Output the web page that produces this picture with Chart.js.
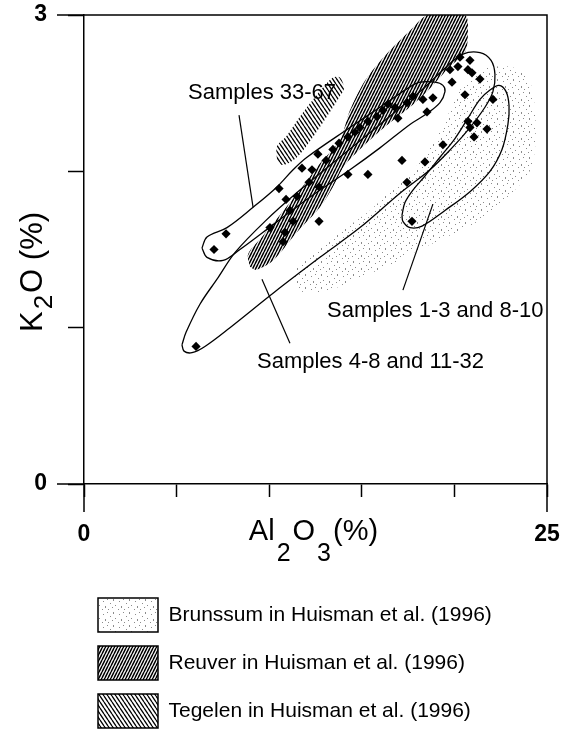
<!DOCTYPE html>
<html>
<head>
<meta charset="utf-8">
<script src="https://cdn.jsdelivr.net/npm/chart.js@4.4.1/dist/chart.umd.min.js"></script>
<style>
  html, body { margin: 0; padding: 0; overflow: hidden; background: #fff; }
  #wrap { position: relative; width: 562px; height: 738px; }
</style>
</head>
<body>
<div id="wrap"><canvas id="c" width="562" height="738"></canvas></div>
<script>
// ---- Sample analyses: Al2O3 (%) against K2O (%), grouped by envelope ----
const al2o3_s33_67 = [7.02, 7.67, 10.04, 10.53, 10.75, 10.85, 10.91, 11.12, 11.29, 11.50, 11.77, 12.15, 12.31, 12.63, 12.69, 13.07, 13.44, 13.77, 14.25, 14.63, 14.90, 15.33, 15.82, 16.14, 16.41, 16.79, 16.95, 17.44, 17.76, 18.30, 18.84, 18.52];
const k2o_s33_67   = [1.50, 1.60, 1.64, 1.89, 1.55, 1.61, 1.82, 1.75, 1.68, 1.84, 2.02, 1.93, 2.01, 2.11, 1.90, 2.07, 2.14, 2.18, 2.22, 2.25, 2.28, 2.32, 2.35, 2.39, 2.43, 2.41, 2.34, 2.44, 2.48, 2.46, 2.47, 2.38];

const al2o3_s4_32 = [6.05, 12.69, 14.25, 15.33, 17.17, 18.41, 19.38, 19.76, 19.87, 20.19, 20.30, 20.84, 20.73, 20.95, 21.38, 20.57, 17.44];
const k2o_s4_32   = [0.88, 1.68, 1.98, 1.98, 2.07, 2.06, 2.17, 2.65, 2.57, 2.67, 2.73, 2.71, 2.65, 2.63, 2.59, 2.49, 1.93];

const al2o3_s1_10 = [22.08, 20.73, 21.22, 20.84, 21.06, 21.76, 17.71];
const k2o_s1_10   = [2.46, 2.32, 2.31, 2.28, 2.22, 2.27, 1.68];

// ---- Envelopes drawn round each sample group (closed outlines) ----
const env33_67_al = [6.37, 6.64, 7.72, 9.13, 10.42, 11.29, 12.04, 14.36, 15.98, 17.60, 18.14, 18.95, 19.38, 19.49, 19.22, 18.52, 17.60, 15.98, 14.36, 12.74, 11.12, 9.67, 8.42, 7.51, 6.64, 6.37];
const env33_67_k  = [1.51, 1.58, 1.64, 1.77, 1.90, 2.01, 2.09, 2.28, 2.41, 2.54, 2.57, 2.57, 2.55, 2.51, 2.44, 2.37, 2.30, 2.15, 2.01, 1.88, 1.74, 1.61, 1.50, 1.43, 1.45, 1.51];

const env4_32_al = [5.29, 5.51, 6.26, 7.24, 8.15, 9.77, 11.66, 13.82, 15.98, 18.14, 19.49, 20.46, 21.38, 21.98, 22.19, 22.08, 21.65, 20.84, 19.87, 18.68, 17.06, 14.90, 12.74, 10.31, 7.88, 6.53, 5.83, 5.40, 5.29];
const env4_32_k  = [0.89, 0.97, 1.15, 1.32, 1.48, 1.68, 1.88, 2.09, 2.30, 2.51, 2.66, 2.75, 2.76, 2.71, 2.62, 2.51, 2.41, 2.28, 2.15, 2.01, 1.86, 1.64, 1.45, 1.23, 1.00, 0.88, 0.84, 0.85, 0.89];

const env1_10_al = [17.17, 17.33, 17.76, 18.41, 19.22, 20.03, 20.73, 21.38, 21.92, 22.41, 22.79, 22.95, 22.89, 22.57, 21.92, 20.84, 19.49, 18.25, 17.60, 17.22, 17.17];
const env1_10_k  = [1.72, 1.80, 1.88, 1.97, 2.09, 2.21, 2.34, 2.46, 2.52, 2.55, 2.51, 2.42, 2.30, 2.14, 2.00, 1.87, 1.75, 1.65, 1.64, 1.68, 1.72];

// ---- Reference fields (Huisman et al., 1996) ----
const brunssum_al = [11.50, 11.45, 12.47, 13.82, 15.44, 16.68, 17.87, 18.95, 19.65, 20.30, 21.27, 22.30, 23.27, 24.08, 24.35, 24.35, 23.97, 22.73, 21.27, 19.76, 18.14, 16.52, 14.63, 13.01, 11.50];
const brunssum_k  = [1.23, 1.37, 1.48, 1.61, 1.75, 1.89, 2.02, 2.20, 2.36, 2.52, 2.64, 2.67, 2.66, 2.57, 2.39, 2.14, 1.98, 1.82, 1.68, 1.59, 1.50, 1.40, 1.31, 1.23, 1.23];

const reuver_al = [8.96, 8.86, 9.61, 10.58, 11.66, 12.74, 13.82, 14.36, 15.17, 16.25, 17.60, 18.57, 20.57, 20.73, 20.57, 19.76, 18.68, 17.60, 16.52, 15.44, 14.09, 13.44, 12.74, 11.50, 10.21, 9.29, 8.96];
const reuver_k  = [1.39, 1.47, 1.58, 1.72, 1.88, 2.05, 2.20, 2.39, 2.58, 2.74, 2.90, 3.00, 3.00, 2.89, 2.76, 2.67, 2.53, 2.41, 2.31, 2.20, 2.04, 1.90, 1.77, 1.61, 1.43, 1.37, 1.39];

const tegelen_al = [10.42, 10.42, 10.96, 11.66, 12.37, 13.01, 13.44, 13.82, 14.04, 13.82, 13.12, 12.37, 11.50, 10.75, 10.42];
const tegelen_k  = [2.07, 2.16, 2.23, 2.35, 2.46, 2.55, 2.60, 2.60, 2.53, 2.48, 2.35, 2.22, 2.09, 2.04, 2.07];

// ---- Leader lines from group captions to their envelopes ----
const leader33_67_al = [8.37, 9.13],   leader33_67_k = [2.36, 1.77];
const leader4_32_al  = [9.61, 11.12],  leader4_32_k  = [1.31, 0.90];
const leader1_10_al  = [17.22, 18.84], leader1_10_k  = [1.24, 1.79];

// ---- Texts ----
const fieldNames = ['Brunssum in Huisman et al. (1996)', 'Reuver in Huisman et al. (1996)', 'Tegelen in Huisman et al. (1996)'];
const groupNames = ['Samples 33-67', 'Samples 4-8 and 11-32', 'Samples 1-3 and 8-10'];
const xTickLabels = [0, 25];
const yTickLabels = [0, 3];

// ---------------------------------------------------------------
const FONT = "'Liberation Sans', Arial, Helvetica, sans-serif";
Chart.defaults.font.family = FONT;
Chart.defaults.color = '#000';

const pts = (xs, ys) => xs.map((x, i) => ({ x, y: ys[i] }));

function hatch(w, h, rising, lw) {
  const c = document.createElement('canvas');
  c.width = w; c.height = h;
  const g = c.getContext('2d');
  g.strokeStyle = '#000';
  g.lineWidth = lw;
  g.beginPath();
  for (const s of [-w, 0, w]) {
    if (rising) { g.moveTo(s, h); g.lineTo(s + w, 0); }
    else { g.moveTo(s, 0); g.lineTo(s + w, h); }
  }
  g.stroke();
  return g.createPattern(c, 'repeat');
}

function stipple() {
  const c = document.createElement('canvas');
  c.width = 16; c.height = 13;
  const g = c.getContext('2d');
  g.fillStyle = '#8c8c8c';
  [[1, 1, 1, 2], [7, 3, 1, 1], [11, 1, 1, 1], [3, 7, 1, 1], [9, 8, 1, 2],
   [14, 5, 1, 1], [6, 11, 1, 1], [12, 11, 1, 1], [0, 9, 1, 1]].forEach(d => g.fillRect(...d));
  return g.createPattern(c, 'repeat');
}

const fieldStyle = (fill) => ({
  type: 'line', backgroundColor: fill, borderColor: 'rgba(0,0,0,0)', borderWidth: 0,
  fill: 'shape', pointRadius: 0, tension: 0.3, inLegend: true
});
const outlineStyle = {
  type: 'line', borderColor: '#000', borderWidth: 1.3, backgroundColor: 'rgba(0,0,0,0)',
  fill: false, pointRadius: 0, tension: 0.35, order: 3
};
const leaderStyle = {
  type: 'line', borderColor: '#000', borderWidth: 1.2, fill: false, pointRadius: 0, tension: 0, order: 2
};
const pointStyle = {
  pointStyle: 'rectRot', pointRadius: 4.6, backgroundColor: '#000', borderColor: '#000', borderWidth: 0, order: 1
};

function drawRich(ctx, parts, cx, baseline, main, sub, subShift) {
  const widths = parts.map(p => {
    ctx.font = p.sub ? sub : main;
    return ctx.measureText(p.t).width + (p.gap || 0) * 2;
  });
  let x = cx - widths.reduce((a, b) => a + b, 0) / 2;
  parts.forEach((p, i) => {
    ctx.font = p.sub ? sub : main;
    ctx.fillText(p.t, x + (p.gap || 0), baseline + (p.sub ? subShift : 0));
    x += widths[i];
  });
}

// scales keep the plot box exactly where the frame sits, ignoring label overhang
const noOverhang = s => { s.paddingTop = 0; s.paddingBottom = 0; s.paddingLeft = 0; s.paddingRight = 0; };

const decorations = {
  id: 'decorations',
  afterDraw(chart) {
    const { ctx, chartArea: a, scales: { x, y } } = chart;
    ctx.save();
    // frame and long end ticks
    ctx.strokeStyle = '#000';
    ctx.lineWidth = 1.5;
    ctx.beginPath();
    ctx.moveTo(a.left - 27, a.top); ctx.lineTo(a.right, a.top); ctx.lineTo(a.right, a.bottom + 28);
    ctx.moveTo(a.left - 27, a.bottom); ctx.lineTo(a.left, a.bottom); ctx.lineTo(a.left, a.bottom + 28);
    ctx.stroke();

    // group captions
    ctx.fillStyle = '#000';
    ctx.textAlign = 'left';
    ctx.textBaseline = 'alphabetic';
    ctx.font = '22px ' + FONT;
    const capPos = [[5.62, 2.46], [9.34, 0.74], [13.12, 1.07]];
    groupNames.forEach((t, i) => {
      ctx.fillText(t, x.getPixelForValue(capPos[i][0]), y.getPixelForValue(capPos[i][1]));
    });

    // axis titles with lowered subscripts
    drawRich(ctx, [{ t: 'Al' }, { t: '2', sub: true, gap: 2 }, { t: 'O' }, { t: '3', sub: true, gap: 2 }, { t: '(%)' }],
      (a.left + a.right) / 2 - 2, a.bottom + 56, '29px ' + FONT, '25px ' + FONT, 21);
    ctx.translate(42, 272);
    ctx.rotate(-Math.PI / 2);
    drawRich(ctx, [{ t: 'K' }, { t: '2', sub: true, gap: 2 }, { t: 'O' }, { t: ' (%)' }], 0, 0,
      '31px ' + FONT, '26px ' + FONT, 10);
    ctx.restore();
  }
};

const chart = new Chart(document.getElementById('c'), {
  type: 'scatter',
  data: {
    datasets: [
      Object.assign({ label: fieldNames[0], data: pts(brunssum_al, brunssum_k), order: 6 }, fieldStyle(stipple())),
      Object.assign({ label: fieldNames[1], data: pts(reuver_al, reuver_k), order: 5 }, fieldStyle(hatch(3, 6, true, 1.5))),
      Object.assign({ label: fieldNames[2], data: pts(tegelen_al, tegelen_k), order: 4 }, fieldStyle(hatch(4, 6, false, 1.3))),
      Object.assign({ label: groupNames[0] + ' envelope', data: pts(env33_67_al, env33_67_k) }, outlineStyle),
      Object.assign({ label: groupNames[1] + ' envelope', data: pts(env4_32_al, env4_32_k) }, outlineStyle),
      Object.assign({ label: groupNames[2] + ' envelope', data: pts(env1_10_al, env1_10_k) }, outlineStyle),
      Object.assign({ label: 'leader 1', data: pts(leader33_67_al, leader33_67_k) }, leaderStyle),
      Object.assign({ label: 'leader 2', data: pts(leader4_32_al, leader4_32_k) }, leaderStyle),
      Object.assign({ label: 'leader 3', data: pts(leader1_10_al, leader1_10_k) }, leaderStyle),
      Object.assign({ label: groupNames[0], data: pts(al2o3_s33_67, k2o_s33_67) }, pointStyle),
      Object.assign({ label: groupNames[1], data: pts(al2o3_s4_32, k2o_s4_32) }, pointStyle),
      Object.assign({ label: groupNames[2], data: pts(al2o3_s1_10, k2o_s1_10) }, pointStyle)
    ]
  },
  options: {
    responsive: false,
    animation: false,
    events: [],
    layout: { padding: { top: 15, right: 15, left: 0, bottom: 0 } },
    scales: {
      x: {
        type: 'linear', min: 0, max: 25,
        afterFit: s => { s.height = 100; noOverhang(s); },
        ticks: {
          stepSize: 5, autoSkip: false, maxRotation: 0, padding: 24,
          font: { size: 23, weight: 'bold' }, color: '#000',
          callback: v => (xTickLabels.includes(v) ? String(v) : '')
        },
        grid: { drawOnChartArea: false, drawTicks: true, tickLength: 13, tickColor: '#000', tickWidth: 1.5 },
        border: { display: true, color: '#000', width: 1.5 }
      },
      y: {
        type: 'linear', min: 0, max: 3,
        afterFit: s => { s.width = 84; noOverhang(s); },
        ticks: {
          stepSize: 1, padding: 21,
          font: { size: 23, weight: 'bold' }, color: '#000',
          callback: v => (yTickLabels.includes(v) ? String(v) : '')
        },
        grid: { drawOnChartArea: false, drawTicks: true, tickLength: 16, tickColor: '#000', tickWidth: 1.5 },
        border: { display: true, color: '#000', width: 1.5 }
      }
    },
    plugins: {
      tooltip: { enabled: false },
      legend: {
        display: true, position: 'bottom', align: 'start', fullSize: false,
        onClick: null,
        labels: {
          boxWidth: 60, boxHeight: 34, padding: 14, color: '#000',
          font: { size: 21 },
          filter: (item, data) => !!data.datasets[item.datasetIndex].inLegend,
          sort: (a, b) => a.datasetIndex - b.datasetIndex,
          generateLabels: (ch) => Chart.defaults.plugins.legend.labels.generateLabels(ch).map(it => Object.assign(it, {
            strokeStyle: '#000', lineWidth: 1.5, lineDash: [], hidden: false
          }))
        }
      }
    }
  },
  plugins: [decorations]
});
</script>
</body>
</html>
